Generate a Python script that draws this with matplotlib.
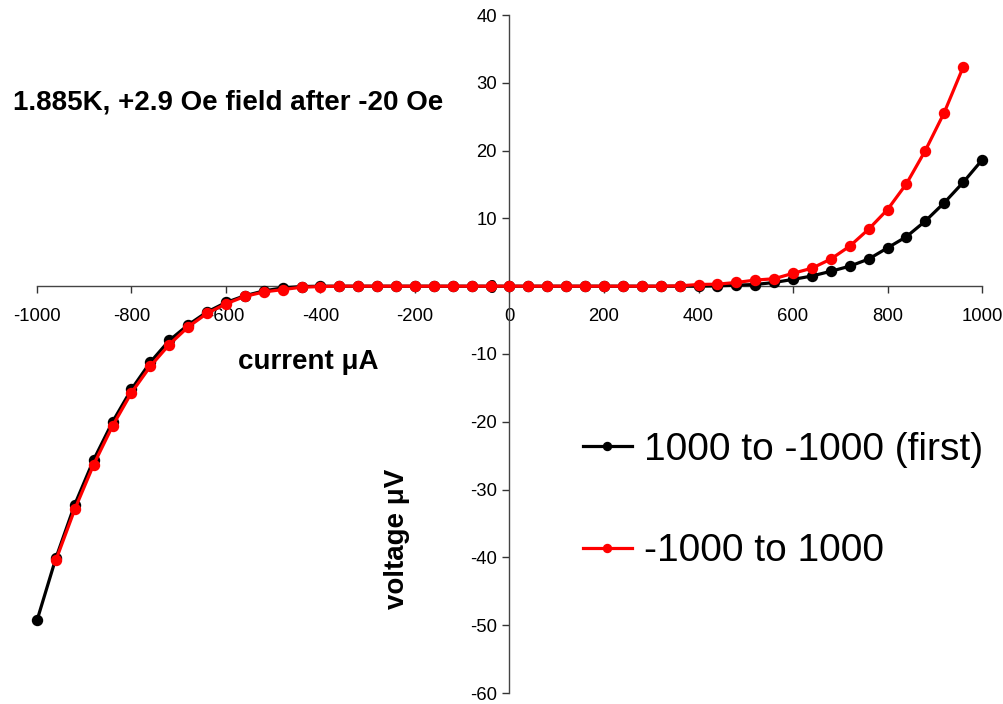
import matplotlib
matplotlib.use("Agg")
import matplotlib.pyplot as plt

plt.rcParams['font.family'] = ['Liberation Sans', 'DejaVu Sans']

# 1000 -> -1000 (first)
black_x = [1000, 960, 920, 880, 840, 800, 760, 720, 680, 640, 600, 560, 520, 480, 440, 400,
           360, 320, 280, 240, 200, 160, 120, 80, 40, 0, -40, -80, -120, -160, -200, -240,
           -280, -320, -360, -400,
           -440, -480, -520, -560, -600, -640, -680, -720, -760, -800, -840, -880, -920,
           -960, -1000]
black_y = [18.6, 15.3, 12.3, 9.6, 7.3, 5.65, 4.0, 2.95, 2.2, 1.5, 1.0, 0.55, 0.25, 0.15, 0.05, 0.0,
           0, 0, 0, 0, 0, 0, 0, 0, 0, 0, 0, 0, 0, 0, 0, 0, 0, 0, 0, 0,
           -0.05, -0.25, -0.7, -1.4, -2.4, -3.8, -5.7, -8.0, -11.2, -15.2, -20.0, -25.6, -32.2,
           -40.1, -49.3]

# -1000 -> 1000
red_x = [-960, -920, -880, -840, -800, -760, -720, -680, -640, -600, -560, -520, -480, -440, -400,
         -360, -320, -280, -240, -200, -160, -120, -80, -40, 0, 40, 80, 120, 160, 200, 240, 280, 320,
         360, 400, 440, 480, 520, 560, 600, 640, 680, 720, 760, 800, 840, 880, 920, 960]
red_y = [-40.4, -32.9, -26.3, -20.6, -15.7, -11.8, -8.6, -6.0, -4.0, -2.6, -1.5, -0.85, -0.5, -0.15, -0.05,
         0, 0, 0, 0, 0, 0, 0, 0, 0, 0, 0, 0, 0, 0, 0, 0, 0, 0,
         0.05, 0.25, 0.3, 0.55, 0.9, 1.1, 1.9, 2.65, 4.0, 5.9, 8.4, 11.3, 15.1, 20.0, 25.6, 32.3]

labels = ["1000 to -1000 (first)", "-1000 to 1000"]
x_ticks = [-1000, -800, -600, -400, -200, 0, 200, 400, 600, 800, 1000]
y_ticks = [-60, -50, -40, -30, -20, -10, 0, 10, 20, 30, 40]

W, H = 1004, 704
fig = plt.figure(figsize=(W / 100, H / 100), dpi=100)
ax = fig.add_axes([37 / W, 1 - 693 / H, (982 - 37) / W, (693 - 15) / H])

ax.plot(black_x, black_y, color='black', lw=2.3, marker='o', ms=7.2, label=labels[0], zorder=3,
        clip_on=False)
ax.plot(red_x, red_y, color='#ff0000', lw=2.3, marker='o', ms=7.2, label=labels[1], zorder=4,
        clip_on=False)

ax.set_xlim(-1000, 1000)
ax.set_ylim(-60, 40)
ax.set_xticks(x_ticks)
ax.set_yticks(y_ticks)
ax.set_xticklabels([str(v) for v in x_ticks])
ax.set_yticklabels([str(v) for v in y_ticks])

for s in ['top', 'right']:
    ax.spines[s].set_visible(False)
ax.spines['left'].set_position(('data', 0))
ax.spines['bottom'].set_position(('data', 0))
for s in ['left', 'bottom']:
    ax.spines[s].set_color('#444444')
    ax.spines[s].set_linewidth(1.0)
    ax.spines[s].set_zorder(2)
ax.tick_params(axis='both', direction='out', length=5, width=1.0, color='#333333',
               labelsize=13.3)
ax.tick_params(axis='x', pad=11)
ax.tick_params(axis='y', pad=4)
ax.patch.set_visible(False)

fig.text(13 / W, 1 - 102 / H, "1.885K, +2.9 Oe field after -20 Oe", fontsize=20,
         fontweight='bold', ha='left', va='center')
fig.text(308 / W, 1 - 362 / H, "current \u03bcA", fontsize=20, fontweight='bold',
         ha='center', va='center')
fig.text(397 / W, 1 - 539 / H, "voltage \u03bcV", fontsize=20, fontweight='bold',
         ha='center', va='center', rotation=90)

fig.legend(loc='upper left', bbox_to_anchor=(548 / W, 1 - 397 / H), frameon=False,
           fontsize=28, handlelength=1.26, handletextpad=0.3, labelspacing=1.68,
           markerscale=0.8)

fig.savefig("out.png", dpi=100)
